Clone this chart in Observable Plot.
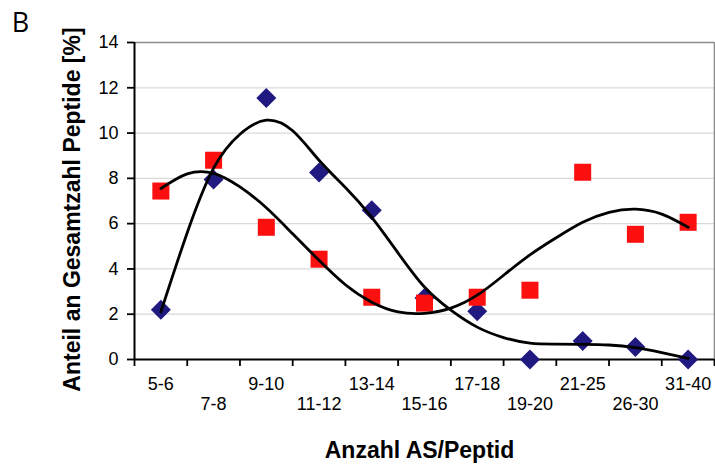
<!DOCTYPE html>
<html><head><meta charset="utf-8">
<script src="https://cdn.jsdelivr.net/npm/d3@7"></script>
<script src="https://cdn.jsdelivr.net/npm/@observablehq/plot@0.6"></script>
<style>body{margin:0;background:#fff}#chart{width:715px;height:467px}</style>
</head><body><div id="chart"></div>
<script>
const categories = ["5-6","7-8","9-10","11-12","13-14","15-16","17-18","19-20","21-25","26-30","31-40"];
const blueValues = [2.2, 7.95, 11.55, 8.26, 6.59, 2.72, 2.13, 0, 0.82, 0.55, 0];
const redValues  = [7.44, 8.8, 5.84, 4.43, 2.75, 2.49, 2.75, 3.06, 8.27, 5.53, 6.06];
const trendSteps = [0,0.5,1,1.5,2,2.5,3,3.5,4,4.5,5,5.5,6,6.5,7,7.5,8,8.5,9,9.5,10];
const blueTrend  = [2.1,5.6,8.45,9.95,10.57,10.1,8.8,7.6,6.28,4.7,3.2,2.18,1.43,0.97,0.72,0.68,0.67,0.64,0.52,0.3,0.05];
const redTrend   = [7.55,8.2,8.22,7.62,6.7,5.55,4.38,3.3,2.53,2.1,2.04,2.27,2.84,3.72,4.62,5.38,6.06,6.5,6.64,6.42,5.84];
const yTicks = [0,2,4,6,8,10,12,14];
const yTitle = "Anteil an Gesamtzahl Peptide [%]";
const xTitle = "Anzahl AS/Peptid";
const panelLabel = "B";

const blue = categories.map((c,i)=>({i, c, v: blueValues[i]}));
const red = categories.map((c,i)=>({i, c, v: redValues[i]}));
const bt = trendSteps.map((s,k)=>({s, v: blueTrend[k]}));
const rt = trendSteps.map((s,k)=>({s, v: redTrend[k]}));
const boundaries = d3.range(categories.length + 1).map(k => k - 0.5);
const labels = categories.map((c,i)=>({i, c}));

const chart = Plot.plot({
  width: 715, height: 467,
  marginLeft: 134, marginTop: 42, marginRight: 1, marginBottom: 108,
  style: {fontFamily: "'Liberation Sans', Arial, sans-serif", fontSize: "18px", background: "#fff"},
  x: {type: "linear", domain: [-0.5, categories.length - 0.5]},
  y: {domain: [0, 14]},
  marks: [
    Plot.ruleY(yTicks.filter(d => d > 0 && d < 14), {stroke: "#d9d9d9", strokeWidth: 1.2}),
    Plot.ruleY([14], {stroke: "#8c8c8c", strokeWidth: 1.6}),
    Plot.ruleX([categories.length - 0.5], {stroke: "#8c8c8c", strokeWidth: 1.6}),
    Plot.axisY({ticks: yTicks, tickSize: 7, tickPadding: 9, fontSize: 18, label: null, strokeWidth: 1.8, tickFormat: d => d}),
    Plot.axisX({ticks: boundaries, tickSize: 7, tickFormat: () => "", label: null, strokeWidth: 1.8}),
    Plot.ruleX([-0.5], {stroke: "black", strokeWidth: 2}),
    Plot.ruleY([0], {stroke: "black", strokeWidth: 2}),
    Plot.text(labels.filter(d => d.i % 2 === 0), {x: "i", y: 0, text: "c", dy: 24.5, fontSize: 18, fill: "black"}),
    Plot.text(labels.filter(d => d.i % 2 === 1), {x: "i", y: 0, text: "c", dy: 44.5, fontSize: 18, fill: "black"}),
    Plot.dot(blue, {x: "i", y: "v", symbol: "diamond2", r: 9, fill: "#201a80", stroke: "none"}),
    Plot.dot(red, {x: "i", y: "v", symbol: "square", r: 9.6, fill: "#fb0f0f", stroke: "none"}),
    Plot.line(bt, {x: "s", y: "v", curve: "natural", stroke: "black", strokeWidth: 2.8}),
    Plot.line(rt, {x: "s", y: "v", curve: "natural", stroke: "black", strokeWidth: 2.8}),
    Plot.text([xTitle], {frameAnchor: "bottom", textAnchor: "middle", lineAnchor: "middle", dx: -5, dy: 91, fontSize: 23, fontWeight: "bold", fill: "black"}),
    Plot.text([yTitle], {frameAnchor: "left", textAnchor: "middle", lineAnchor: "middle", dx: -62, dy: 8.5, rotate: -90, fontSize: 23, fontWeight: "bold", fill: "black"}),
    Plot.text([panelLabel], {frameAnchor: "top-left", textAnchor: "middle", lineAnchor: "middle", dx: -114, dy: -19, fontSize: 27, fontFamily: "'Open Sans', sans-serif", fill: "black"})
  ]
});
document.getElementById("chart").append(chart);
</script>
</body></html>
